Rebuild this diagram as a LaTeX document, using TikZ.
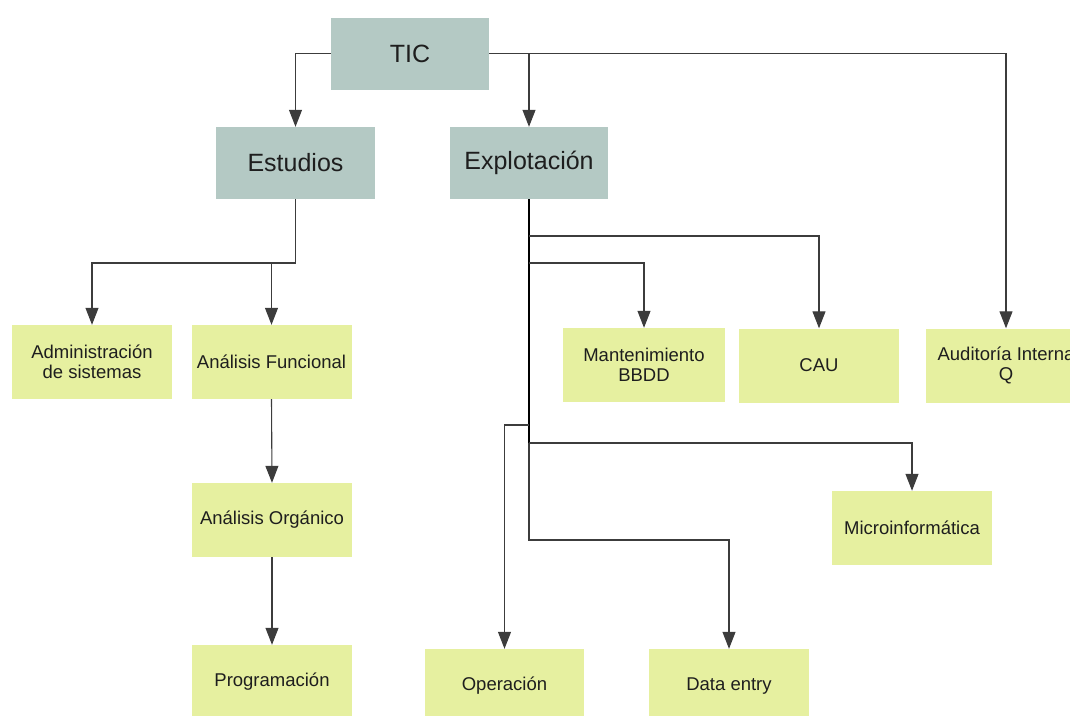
\documentclass[tikz,border=0pt]{standalone}
\usepackage{fontspec}
\setmainfont{Liberation Sans}
\usetikzlibrary{arrows.meta}
\definecolor{headfill}{RGB}{180,201,196}
\definecolor{unitfill}{RGB}{230,240,160}
\definecolor{linkgray}{RGB}{60,60,60}
\definecolor{txt}{RGB}{30,30,30}
\tikzset{
  head/.style={fill=headfill, text=txt, minimum width=158pt, minimum height=72pt,
    inner sep=0pt, font=\fontsize{25}{30}\selectfont},
  unit/.style={fill=unitfill, text=txt, minimum width=160pt, minimum height=74pt,
    inner sep=0pt, align=center, font=\fontsize{18.5}{20}\selectfont},
  conn/.style={draw=linkgray, line width=1.1pt,
    -{Triangle[length=17pt,width=13pt]}},
  trunk/.style={draw=black, line width=2pt}
}
\begin{document}
\begin{tikzpicture}[x=1pt,y=-1pt]
\useasboundingbox (0,0) rectangle (1070,715);
\clip (0,0) rectangle (1070,715);

% top level and departments
\node[head] (tic)  at (410,53.5) {TIC};
\node[head, minimum width=159pt] (est)  at (295.5,163) {Estudios};
\node[head] (expl) at (529,163) {Explotación};

% Estudios units
\node[unit] (adm)  at (92,362)    {Administración\\de sistemas};
\node[unit] (af)   at (271.5,362) {Análisis Funcional};
\node[unit] (ao)   at (272,520)   {Análisis Orgánico};
\node[unit] (prog) at (272,682)   {Programación};

% Explotación units
\node[unit, minimum width=162pt] (mant) at (644,365) {Mantenimiento\\BBDD};
\node[unit] (cau)  at (819,365.5)  {CAU};
\node[unit] (aud)  at (1006,365.5) {Auditoría Interna\\Q};
\node[unit] (micro) at (912,528)   {Microinformática};
\node[unit, minimum width=159pt] (oper) at (504.5,686) {Operación};
\node[unit] (data) at (729,686)    {Data entry};

% branch points
\coordinate (eb)  at (295.5,263);
\coordinate (xc)  at (529,236);
\coordinate (xm)  at (529,263);
\coordinate (xo)  at (529,425);
\coordinate (xi)  at (529,443);
\coordinate (xd)  at (529,540);

% TIC links
\draw[conn] (tic.west) -| (est.north);
\draw[conn] (tic.east) -| (expl.north);
\draw[conn] (tic.east) -| (aud.north);

% Estudios links
\draw[conn] (est.south) -- (eb) -| (adm.north);
\draw[conn] (eb) -| (af.north);
\draw[conn] (af.south) -- (ao.north);
\draw[conn] (ao.south) -- (prog.north);

% Explotación links
\draw[trunk] (expl.south) -- (xi);
\draw[conn] (xc) -| (cau.north);
\draw[conn] (xm) -| (mant.north);
\draw[conn] (xo) -| (oper.north);
\draw[conn] (xi) -| (micro.north);
\draw[conn] (xi) -- (xd) -| (data.north);
\end{tikzpicture}
\end{document}
